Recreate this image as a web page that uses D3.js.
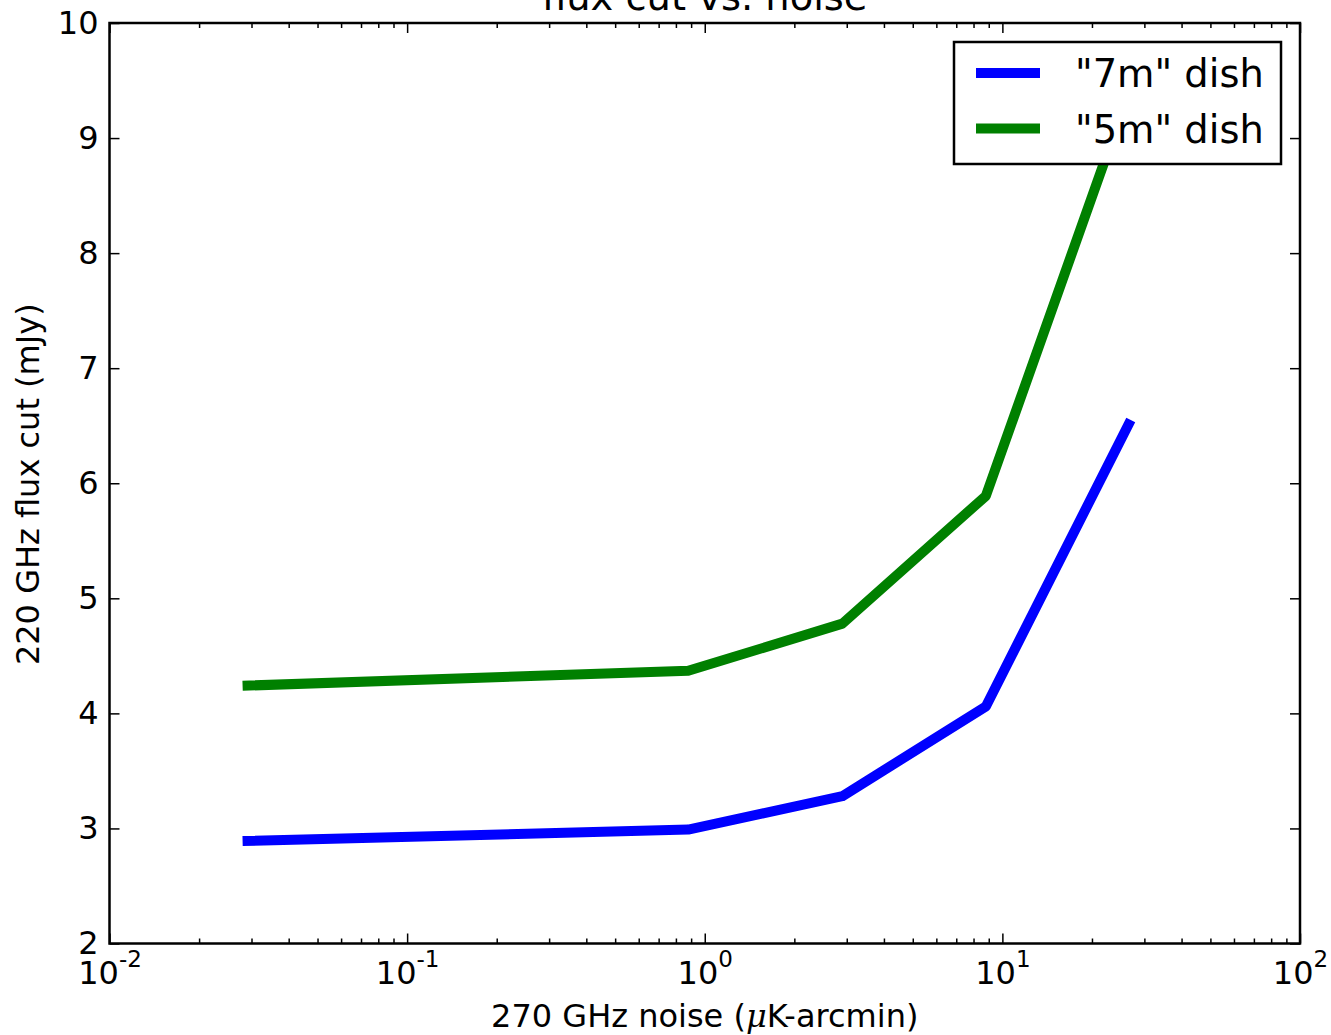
<!DOCTYPE html>
<html>
<head>
<meta charset="utf-8">
<script src="https://cdn.jsdelivr.net/npm/d3@7"></script>
<style>
body { margin: 0; background: #fff; }
svg { font-family: "DejaVu Sans", sans-serif; }
.axis path { display: none; }
.axis line { stroke: #000; stroke-width: 1.5; }
</style>
</head>
<body>
<div id="chart"></div>
<script>
// values
var noise = [0.028, 0.88, 2.9, 8.8, 27];
var cut7m = [2.89, 2.99, 3.28, 4.06, 6.55];
var cut5m = [4.24, 4.37, 4.78, 5.89, 9.44];
var seriesNames = ['"7m" dish', '"5m" dish'];
var seriesColors = ["#0000ff", "#008000"];
var xMajor = [0.01, 0.1, 1, 10, 100];
var xExp = ["-2", "-1", "0", "1", "2"];
var yMajor = [2, 3, 4, 5, 6, 7, 8, 9, 10];

var W = 1331, H = 1035;
var pLeft = 109.5, pRight = 1300, pTop = 23, pBottom = 943.5;
var fs = 32; // base font size

var svg = d3.select("#chart").append("svg")
	.attr("width", W).attr("height", H);

var x = d3.scaleLog().domain([0.01, 100]).range([pLeft, pRight]);
var y = d3.scaleLinear().domain([2, 10]).range([pBottom, pTop]);

// minor ticks 2..9 per decade
var xMinor = [];
xMajor.slice(0, -1).forEach(function(d) {
	for (var k = 2; k <= 9; k++) { xMinor.push(d * k); }
});

function addAxis(axis, tx, ty, cls) {
	return svg.append("g")
		.attr("class", "axis " + cls)
		.attr("transform", "translate(" + tx + "," + ty + ")")
		.call(axis);
}

// bottom / top, ticks pointing in
var xb = addAxis(d3.axisBottom(x).tickValues(xMajor).tickSize(-10).tickFormat(function(){ return ""; }), 0, pBottom, "xb");
addAxis(d3.axisBottom(x).tickValues(xMinor).tickSize(-5).tickFormat(""), 0, pBottom, "xbm");
addAxis(d3.axisTop(x).tickValues(xMajor).tickSize(-10).tickFormat(""), 0, pTop, "xt");
addAxis(d3.axisTop(x).tickValues(xMinor).tickSize(-5).tickFormat(""), 0, pTop, "xtm");

// left / right
var yl = addAxis(d3.axisLeft(y).tickValues(yMajor).tickSize(-10).tickPadding(11).tickFormat(d3.format("d")), pLeft, 0, "yl");
addAxis(d3.axisRight(y).tickValues(yMajor).tickSize(-10).tickFormat(""), pRight, 0, "yr");

yl.selectAll("text")
	.attr("fill", "#000")
	.style("font-size", fs + "px")
	.style("font-family", "DejaVu Sans");

// x labels as 10^n with superscript
xb.selectAll(".tick").each(function(d, i) {
	var t = d3.select(this).select("text").text(null)
		.attr("y", 40).attr("dy", null)
		.attr("fill", "#000")
		.attr("text-anchor", "middle")
		.style("font-size", fs + "px")
		.style("font-family", "DejaVu Sans");
	t.append("tspan").text("10");
	t.append("tspan").attr("dy", -17).style("font-size", "23px").text(xExp[i]);
});

// frame
svg.append("rect")
	.attr("x", pLeft).attr("y", pTop)
	.attr("width", pRight - pLeft).attr("height", pBottom - pTop)
	.attr("fill", "none").attr("stroke", "#000").attr("stroke-width", 2.5);

svg.append("clipPath").attr("id", "clip")
	.append("rect")
	.attr("x", pLeft).attr("y", pTop)
	.attr("width", pRight - pLeft).attr("height", pBottom - pTop);

var line = d3.line()
	.x(function(d){ return x(d[0]); })
	.y(function(d){ return y(d[1]); });

var series = [cut7m, cut5m];
series.forEach(function(vals, i) {
	svg.append("path")
		.datum(d3.zip(noise, vals))
		.attr("clip-path", "url(#clip)")
		.attr("fill", "none")
		.attr("stroke", seriesColors[i])
		.attr("stroke-width", 10)
		.attr("stroke-linejoin", "round")
		.attr("d", line);
});

// legend
var lg = svg.append("g").attr("transform", "translate(954,42)");
lg.append("rect")
	.attr("width", 327).attr("height", 122)
	.attr("fill", "#fff").attr("stroke", "#000").attr("stroke-width", 2.5);
seriesNames.forEach(function(name, i) {
	var yy = 31 + i * 55.5;
	lg.append("line")
		.attr("x1", 22).attr("x2", 86)
		.attr("y1", yy).attr("y2", yy)
		.attr("stroke", seriesColors[i]).attr("stroke-width", 10);
	lg.append("text")
		.attr("x", 121).attr("y", yy + 14)
		.style("font-size", (fs * 1.2) + "px")
		.text(name);
});

// title and axis labels
svg.append("text")
	.attr("x", (pLeft + pRight) / 2).attr("y", 10)
	.attr("text-anchor", "middle")
	.style("font-size", (fs * 1.2) + "px")
	.text("flux cut vs. noise");

var xl = svg.append("text")
	.attr("x", (pLeft + pRight) / 2).attr("y", 1027)
	.attr("text-anchor", "middle")
	.style("font-size", fs + "px");
xl.append("tspan").text("270 GHz noise (");
xl.append("tspan").style("font-family", "DejaVu Serif").style("font-style", "italic").text("\u03bc");
xl.append("tspan").text("K-arcmin)");

svg.append("text")
	.attr("transform", "translate(39," + ((pTop + pBottom) / 2 + 1) + ") rotate(-90)")
	.attr("text-anchor", "middle")
	.style("font-size", fs + "px")
	.text("220 GHz flux cut (mJy)");
</script>
</body>
</html>
